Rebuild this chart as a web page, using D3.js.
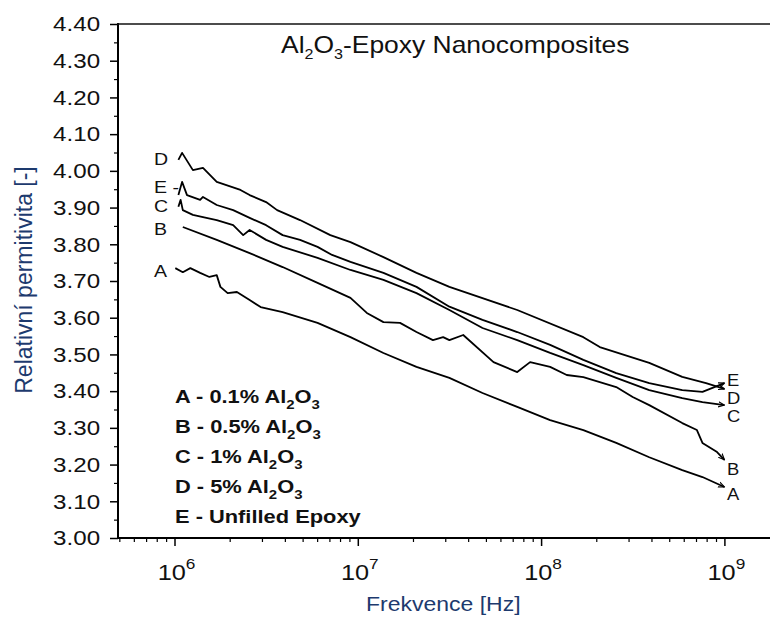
<!DOCTYPE html>
<html><head><meta charset="utf-8">
<script src="https://cdn.jsdelivr.net/npm/d3@7/dist/d3.min.js"></script>
<style>
html,body{margin:0;padding:0;background:#fff;}
svg{display:block;font-family:"Liberation Sans",Arial,sans-serif;}
</style></head><body>
<svg id="chart" width="770" height="617"></svg>
<script>
// ---------- data ----------
const seriesNames = ["A","B","C","D","E"];
const legendPct = ["0.1%","0.5%","1%","5%"];
const legendLast = "Unfilled Epoxy";
const xTickExp = [6,7,8,9];
const yTicks = [3.00,3.10,3.20,3.30,3.40,3.50,3.60,3.70,3.80,3.90,4.00,4.10,4.20,4.30,4.40];

const freqA = [1.01e6,1.11e6,1.22e6,1.38e6,1.55e6,1.70e6,1.78e6,1.95e6,2.19e6,2.57e6,2.95e6,3.89e6,6.03e6,9.12e6,1.38e7,2.09e7,3.16e7,4.79e7,7.41e7,1.12e8,1.70e8,2.57e8,3.89e8,5.89e8,7.59e8,1.0e9];
const valA  = [3.735,3.724,3.735,3.722,3.711,3.716,3.684,3.667,3.670,3.648,3.629,3.615,3.586,3.547,3.504,3.466,3.436,3.395,3.357,3.321,3.294,3.259,3.220,3.185,3.166,3.139];

const freqB = [1.11e6,1.70e6,2.57e6,3.89e6,6.03e6,9.12e6,1.12e7,1.38e7,1.70e7,2.09e7,2.57e7,2.92e7,3.16e7,3.76e7,5.50e7,7.41e7,8.71e7,1.12e8,1.38e8,1.70e8,2.57e8,3.16e8,3.89e8,5.89e8,7.08e8,7.59e8,9.12e8,1.0e9];
const valB  = [3.847,3.812,3.776,3.738,3.695,3.654,3.613,3.588,3.586,3.561,3.539,3.547,3.539,3.553,3.479,3.452,3.479,3.466,3.444,3.438,3.411,3.384,3.362,3.313,3.294,3.259,3.234,3.213];

const freqC = [1.05e6,1.08e6,1.11e6,1.26e6,1.43e6,1.70e6,2.09e6,2.37e6,2.57e6,3.16e6,3.89e6,6.03e6,9.12e6,1.38e7,2.09e7,3.16e7,4.79e7,7.41e7,1.12e8,1.70e8,2.57e8,3.89e8,5.89e8,7.59e8,1.0e9];
const valC  = [3.902,3.921,3.893,3.880,3.874,3.866,3.852,3.825,3.839,3.812,3.793,3.763,3.730,3.703,3.667,3.621,3.572,3.539,3.504,3.471,3.436,3.403,3.381,3.370,3.362];

const freqD = [1.05e6,1.10e6,1.26e6,1.43e6,1.70e6,2.29e6,2.57e6,3.16e6,3.63e6,4.84e6,7.08e6,9.12e6,1.38e7,2.09e7,3.16e7,7.41e7,1.70e8,2.09e8,3.89e8,5.89e8,7.94e8,1.0e9];
const valD  = [4.030,4.049,4.002,4.008,3.970,3.948,3.934,3.915,3.893,3.866,3.825,3.806,3.765,3.722,3.684,3.621,3.547,3.520,3.477,3.439,3.422,3.406];

const freqE = [1.05e6,1.10e6,1.17e6,1.38e6,1.43e6,1.70e6,2.09e6,2.57e6,3.16e6,3.89e6,4.84e6,6.03e6,7.24e6,9.12e6,1.38e7,2.09e7,3.16e7,4.79e7,7.41e7,1.12e8,1.70e8,2.57e8,3.89e8,5.89e8,7.59e8,1.0e9];
const valE  = [3.934,3.970,3.934,3.921,3.929,3.907,3.893,3.872,3.852,3.825,3.812,3.793,3.771,3.752,3.722,3.684,3.630,3.594,3.561,3.526,3.485,3.449,3.422,3.403,3.398,3.422];

const seriesFreq = [freqA,freqB,freqC,freqD,freqE];
const seriesVal  = [valA,valB,valC,valD,valE];

// ---------- layout ----------
const SX = 1.15;           // horizontal text stretch of the scanned figure
const L = 118, R = 770, T = 24, B = 538;
const navy = "#1d3a6e";
const svg = d3.select("#chart");

const x0 = d3.scaleLog().domain([1e6,1e9]).range([174.5,724.4]);
const x = d3.scaleLog().domain([x0.invert(L), x0.invert(R)]).range([L,R]);
const y = d3.scaleLinear().domain([3.0,4.4]).range([B,T]);

// arrow marker
svg.append("defs").append("marker")
  .attr("id","arr").attr("viewBox","0 -4 8 8").attr("refX",7).attr("refY",0)
  .attr("markerWidth",7).attr("markerHeight",7).attr("markerUnits","userSpaceOnUse")
  .attr("orient","auto")
  .append("path").attr("d","M0,-3L7,0L0,3").attr("fill","none").attr("stroke","#000").attr("stroke-width",1.3);

// ---------- axes ----------
const gy = svg.append("g").attr("transform",`translate(${L},0)`)
  .call(d3.axisLeft(y).tickValues(yTicks).tickSize(8).tickPadding(7.6).tickFormat(d3.format(".2f")));
gy.select(".domain").remove();
gy.selectAll("line").attr("stroke","#000").attr("stroke-width",1.5);
gy.selectAll("text").attr("font-size",21).attr("fill","#111")
  .attr("font-family","'Liberation Sans',Arial,sans-serif")
  .attr("transform",`scale(${SX},1)`);
const yMinor = yTicks.slice(0,-1).map(v => v + 0.05);
const gym = svg.append("g").attr("transform",`translate(${L},0)`)
  .call(d3.axisLeft(y).tickValues(yMinor).tickSize(4).tickFormat(""));
gym.select(".domain").remove();
gym.selectAll("line").attr("stroke","#000").attr("stroke-width",1.2);

const gx = svg.append("g").attr("transform",`translate(0,${B})`)
  .call(d3.axisBottom(x).tickValues(xTickExp.map(e => Math.pow(10,e))).tickSize(8).tickFormat(""));
gx.select(".domain").remove();
gx.selectAll("line").attr("stroke","#000").attr("stroke-width",1.5);
const xMinor = [];
for (let e = 5; e <= 9; e++) for (let m = 2; m <= 9; m++) {
  const v = m * Math.pow(10,e);
  if (x(v) >= L && x(v) <= R) xMinor.push(v);
}
const gxm = svg.append("g").attr("transform",`translate(0,${B})`)
  .call(d3.axisBottom(x).tickValues(xMinor).tickSize(4).tickFormat(""));
gxm.select(".domain").remove();
gxm.selectAll("line").attr("stroke","#000").attr("stroke-width",1.2);

xTickExp.forEach(e => {
  const t = svg.append("text")
    .attr("transform",`translate(${x(Math.pow(10,e)) + 2},580) scale(${SX},1)`)
    .attr("text-anchor","middle").attr("font-size",22).attr("fill","#111");
  t.append("tspan").text("10");
  t.append("tspan").attr("dy",-11).attr("font-size",15).text(e);
});

// frame lines
svg.append("line").attr("x1",L).attr("x2",L).attr("y1",T-1).attr("y2",B+1).attr("stroke","#000").attr("stroke-width",2);
svg.append("line").attr("x1",L-1).attr("x2",R).attr("y1",B).attr("y2",B).attr("stroke","#000").attr("stroke-width",2);
svg.append("line").attr("x1",L-1).attr("x2",R).attr("y1",T).attr("y2",T).attr("stroke","#111").attr("stroke-width",1.6);

// axis titles
svg.append("text").attr("transform",`translate(366,611) scale(${SX},1)`)
  .attr("font-size",20).attr("fill",navy).text("Frekvence [Hz]");
svg.append("text").attr("transform","translate(32,280) rotate(-90)")
  .attr("text-anchor","middle").attr("font-size",23).attr("fill",navy).text("Relativní permitivita [-]");

// title
const title = svg.append("text").attr("transform",`translate(281,53) scale(${SX},1)`)
  .attr("font-size",23).attr("fill","#111");
title.append("tspan").text("Al");
title.append("tspan").attr("dy",6).attr("font-size",14).text("2");
title.append("tspan").attr("dy",-6).text("O");
title.append("tspan").attr("dy",6).attr("font-size",14).text("3");
title.append("tspan").attr("dy",-6).text("-Epoxy Nanocomposites");

// ---------- series ----------
const line = d3.line().x(d => x(d[0])).y(d => y(d[1]));
seriesNames.forEach((n,i) => {
  const pts = seriesFreq[i].map((f,j) => [f, seriesVal[i][j]]);
  svg.append("path").datum(pts).attr("d",line)
    .attr("fill","none").attr("stroke","#000").attr("stroke-width",1.8)
    .attr("stroke-linejoin","round").attr("marker-end","url(#arr)");
});

// curve labels
const leftLab = [["D",165],["E -",193],["C",212],["B",235],["A",277]];
leftLab.forEach(([t,yy]) => svg.append("text")
  .attr("transform",`translate(154,${yy}) scale(${SX},1)`)
  .attr("font-size",17).attr("fill","#111").text(t));
const rightLab = [["E",386],["D",404],["C",422],["B",475],["A",500]];
rightLab.forEach(([t,yy]) => svg.append("text")
  .attr("transform",`translate(727,${yy}) scale(${SX},1)`)
  .attr("font-size",16).attr("fill","#111").text(t));

// ---------- legend ----------
const legY0 = 403, legDY = 30;
seriesNames.forEach((n,i) => {
  const t = svg.append("text").attr("transform",`translate(175,${legY0 + i*legDY}) scale(${SX},1)`)
    .attr("font-size",19).attr("font-weight","bold").attr("fill","#111");
  if (i < legendPct.length) {
    t.append("tspan").text(`${n} - ${legendPct[i]} Al`);
    t.append("tspan").attr("dy",6).attr("font-size",13).text("2");
    t.append("tspan").attr("dy",-6).text("O");
    t.append("tspan").attr("dy",6).attr("font-size",13).text("3");
  } else {
    t.append("tspan").text(`${n} - ${legendLast}`);
  }
});
</script>
</body></html>
